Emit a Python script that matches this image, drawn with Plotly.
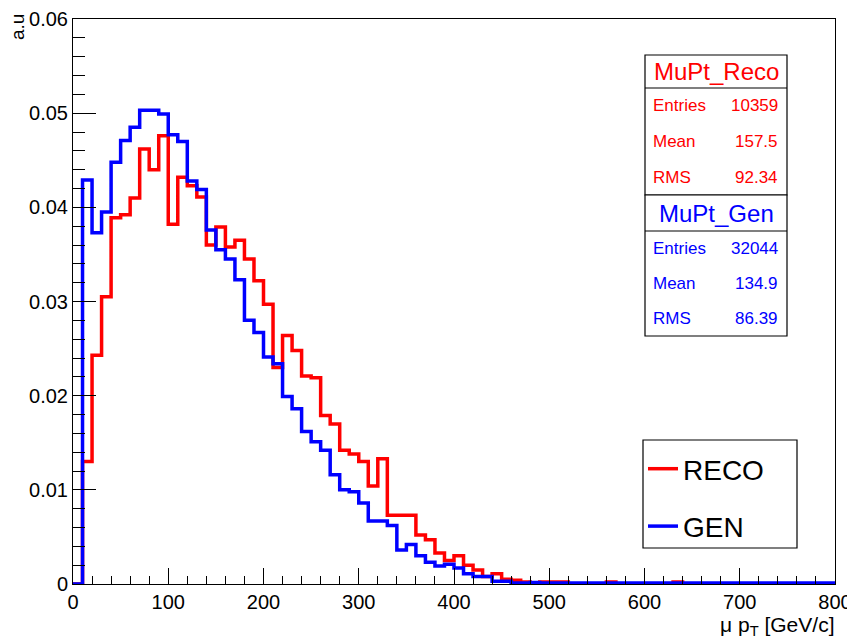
import numpy as np
import plotly.graph_objects as go

# muon pT, 10 GeV bins from 0 to 800, normalised to unit area
bin_width = 10
reco = [0.0, 0.0130, 0.0243, 0.0305, 0.0389, 0.0392, 0.0410, 0.0462, 0.0440, 0.0476,
        0.0382, 0.0432, 0.0423, 0.0411, 0.0360, 0.0379, 0.0358, 0.0365, 0.0345, 0.0322,
        0.0297, 0.0230, 0.0264, 0.0248, 0.0221, 0.0219, 0.0179, 0.0170, 0.0142, 0.0138,
        0.0130, 0.0104, 0.0133, 0.0073, 0.0073, 0.0073, 0.0052, 0.0047, 0.0033, 0.0025,
        0.0030, 0.0020, 0.0015, 0.0008, 0.0011, 0.0005, 0.0004, 0.0002, 0.0001, 0.0002,
        0.0002, 0.0002, 0.0, 0.0, 0.0, 0.0, 0.0002, 0.0, 0.0, 0.0,
        0.0, 0.0, 0.0, 0.0002, 0.0, 0.0, 0.0, 0.0, 0.0, 0.0,
        0.0, 0.0, 0.0, 0.0, 0.0, 0.0, 0.0, 0.0, 0.0, 0.0]
gen = [0.0, 0.0429, 0.0373, 0.0395, 0.0448, 0.0471, 0.0485, 0.0503, 0.0503, 0.0499,
       0.0477, 0.0470, 0.0428, 0.0419, 0.0376, 0.0355, 0.0345, 0.0323, 0.0280, 0.0267,
       0.0241, 0.0234, 0.0199, 0.0186, 0.0162, 0.0151, 0.0142, 0.0116, 0.0100, 0.0098,
       0.0086, 0.0067, 0.0067, 0.0062, 0.0036, 0.0042, 0.0030, 0.0023, 0.0019, 0.0021,
       0.0017, 0.0011, 0.0008, 0.0008, 0.0003, 0.0003, 0.0001, 0.0001, 0.00015, 0.0001,
       0.0001, 0.0001, 0.0001, 0.0001, 0.0001, 0.0001, 0.0001, 0.0001, 0.0001, 0.0001,
       0.0001, 0.0001, 0.0001, 0.0001, 0.0001, 0.0001, 0.0001, 0.0001, 0.0001, 0.0001,
       0.0001, 0.0001, 0.0001, 0.0001, 0.0001, 0.0001, 0.0001, 0.0001, 0.0001, 0.0001]

reco_stats = {"name": "MuPt_Reco", "Entries": "10359", "Mean": "157.5", "RMS": "92.34"}
gen_stats = {"name": "MuPt_Gen", "Entries": "32044", "Mean": "134.9", "RMS": "86.39"}

edges = np.arange(len(reco) + 1) * bin_width

FONT = "Liberation Sans, Arial, sans-serif"
RED = "#ff0000"
BLUE = "#0000ff"


def step(vals):
    return list(edges), list(vals) + [vals[-1]]


fig = go.Figure()
x, y = step(reco)
fig.add_trace(go.Scatter(x=x, y=y, mode="lines", line=dict(color=RED, width=3.5, shape="hv"),
                         name="RECO", legendgroup="reco"))
x, y = step(gen)
fig.add_trace(go.Scatter(x=x, y=y, mode="lines", line=dict(color=BLUE, width=3.5, shape="hv"),
                         name="GEN", legendgroup="gen"))

# page has an 8px body margin, so the figure starts at (8, 8)
OFF = 8
W, H = 855 - OFF, 639 - OFF
# plot area in screen pixels: left 73, right 835, top 19, bottom 584
L, R, T, B = 73, 835, 19, 584


def px(xp):
    return (xp - L) / (R - L)


def py(yp):
    return (B - yp) / (B - T)


# stat boxes
shapes = []
annotations = []
bx0, bx1 = 645, 787
boxes = [(reco_stats, RED, 55, 88, 195), (gen_stats, BLUE, 195, 231, 336)]
for st, col, top, mid, bot in boxes:
    shapes.append(dict(type="rect", xref="paper", yref="paper", x0=px(bx0), x1=px(bx1),
                       y0=py(bot), y1=py(top), line=dict(color="black", width=1.2),
                       fillcolor="white", layer="above"))
    shapes.append(dict(type="line", xref="paper", yref="paper", x0=px(bx0), x1=px(bx1),
                       y0=py(mid), y1=py(mid), line=dict(color="black", width=1.2), layer="above"))
    annotations.append(dict(text=st["name"], xref="paper", yref="paper",
                            x=px((bx0 + bx1) / 2), y=py((top + mid) / 2), showarrow=False,
                            xanchor="center", yanchor="middle", font=dict(size=24, color=col)))
    row_h = (bot - mid) / 3
    for i, key in enumerate(["Entries", "Mean", "RMS"]):
        yc = mid + row_h * (i + 0.5)
        annotations.append(dict(text=key, xref="paper", yref="paper", x=px(651), y=py(yc),
                                showarrow=False, xanchor="left", yanchor="middle",
                                font=dict(size=17, color=col)))
        annotations.append(dict(text=st[key], xref="paper", yref="paper", x=px(780), y=py(yc),
                                showarrow=False, xanchor="right", yanchor="middle",
                                font=dict(size=17, color=col)))

# legend frame (the legend itself sits inside without border)
shapes.append(dict(type="rect", xref="paper", yref="paper", x0=px(643), x1=px(797),
                   y0=py(548), y1=py(440), line=dict(color="black", width=1.2),
                   fillcolor="white", layer="above"))

# axis titles, ROOT style
annotations.append(dict(text="a.u", xref="paper", yref="paper", x=px(17), y=py(12),
                        showarrow=False, textangle=-90, xanchor="center", yanchor="top",
                        font=dict(size=19, color="black")))
annotations.append(dict(text="μ p<sub>T</sub> [GeV/c]", xref="paper", yref="paper",
                        x=px(836), y=py(626), showarrow=False, xanchor="right", yanchor="middle",
                        font=dict(size=21, color="black")))

fig.update_layout(
    width=W, height=H,
    margin=dict(l=L - OFF, r=W + OFF - R, t=T - OFF, b=H + OFF - B, pad=0, autoexpand=False),
    paper_bgcolor="white", plot_bgcolor="white",
    font=dict(family=FONT, color="black", size=20),
    shapes=shapes, annotations=annotations,
    showlegend=True,
    legend=dict(x=px(643), y=py(444), xanchor="left", yanchor="top",
                borderwidth=0, bgcolor="rgba(0,0,0,0)",
                font=dict(size=28), tracegroupgap=18),
)
fig.update_xaxes(range=[0, 800], dtick=100, tick0=0, showgrid=False, zeroline=False,
                 automargin=False,
                 showline=True, linecolor="black", linewidth=1, mirror=True,
                 ticks="inside", ticklen=16, tickcolor="black",
                 minor=dict(dtick=20, ticks="inside", ticklen=8, tickcolor="black", showgrid=False))
fig.update_yaxes(range=[0, 0.06], dtick=0.01, tick0=0, showgrid=False, zeroline=False,
                 automargin=False,
                 showline=True, linecolor="black", linewidth=1, mirror=True,
                 ticks="inside", ticklen=23, tickcolor="black",
                 minor=dict(dtick=0.002, ticks="inside", ticklen=12, tickcolor="black", showgrid=False))

fig.write_html("out.html")
